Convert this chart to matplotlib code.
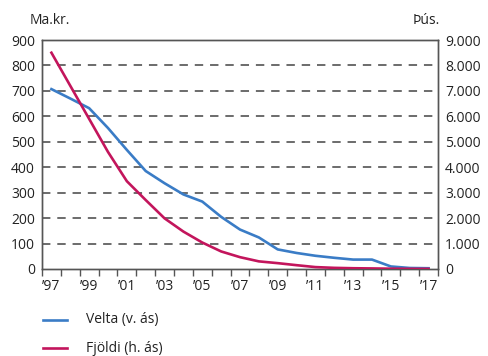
import matplotlib
matplotlib.use("Agg")
import matplotlib.pyplot as plt
from matplotlib.lines import Line2D

years = list(range(1997, 2018))
year_labels = ["\u2019" + str(y)[2:] for y in years]
velta = [707, 670, 632, 554, 468, 385, 337, 293, 265, 205, 155, 124, 77, 63, 52, 44, 37, 37, 10, 4, 3]
fjoldi = [8500, 7200, 5900, 4600, 3450, 2710, 1990, 1470, 1040, 690, 465, 300, 230, 150, 75, 45, 30, 22, 12, 6, 4]
left_ticks = list(range(0, 901, 100))
right_ticks = list(range(0, 9001, 1000))
right_labels = ["0"] + [f"{v//1000}.000" for v in right_ticks[1:]]

plt.rcParams['font.family'] = ['Open Sans', 'DejaVu Sans']
blue = '#3a7cc6'
red = '#c3155c'
spine_c = '#555555'

fig = plt.figure(figsize=(4.88, 3.56), dpi=100)
ax = fig.add_axes([42/488, 1-269/356, 396/488, 229/356])
ax2 = ax.twinx()

x = list(range(len(years)))
ax.plot(x, velta, color=blue, lw=1.9, zorder=3, solid_joinstyle='round')
ax2.plot(x, fjoldi, color=red, lw=1.9, zorder=3, solid_joinstyle='round')

ax.set_xlim(-0.5, len(years) - 0.5)
ax.set_ylim(0, 900)
ax2.set_ylim(0, 9000)

ax.set_yticks(left_ticks)
ax.set_yticklabels([str(v) for v in left_ticks])
ax2.set_yticks(right_ticks)
ax2.set_yticklabels(right_labels)

for v in left_ticks[1:-1]:
    ax.axhline(v, color='#444444', lw=1.1, dashes=(5.5, 4.5), zorder=1)

ax.set_xticks([i - 0.5 for i in range(len(years) + 1)])
ax.set_xticklabels([])
ax.set_xticks(x[::2], minor=True)
ax.set_xticklabels(year_labels[::2], minor=True)
ax.tick_params(axis='x', which='major', length=5, width=1, color=spine_c, direction='out')
ax.tick_params(axis='x', which='minor', length=0, pad=7, labelsize=10, colors='#222222')
ax.tick_params(axis='y', length=0, pad=5, labelsize=10, colors='#222222')
ax2.tick_params(axis='y', length=0, pad=5, labelsize=10, colors='#222222')

for a in (ax, ax2):
    for s in a.spines.values():
        s.set_color(spine_c)
        s.set_linewidth(1.0)

fig.text(30/488, 1-20/356, "Ma.kr.", fontsize=10, va='center', ha='left', color='#222222')
fig.text(440/488, 1-20/356, "Þús.", fontsize=10, va='center', ha='right', color='#222222')

# legend
for yy, col, lab in [(320, blue, "Velta (v. ás)"), (348, red, "Fjöldi (h. ás)")]:
    fig.add_artist(Line2D([43/488, 67/488], [1-yy/356, 1-yy/356], color=col, lw=1.9))
    fig.text(86/488, 1-yy/356, lab, fontsize=10, va='center', ha='left', color='#222222')

fig.savefig("out.png", dpi=100)
